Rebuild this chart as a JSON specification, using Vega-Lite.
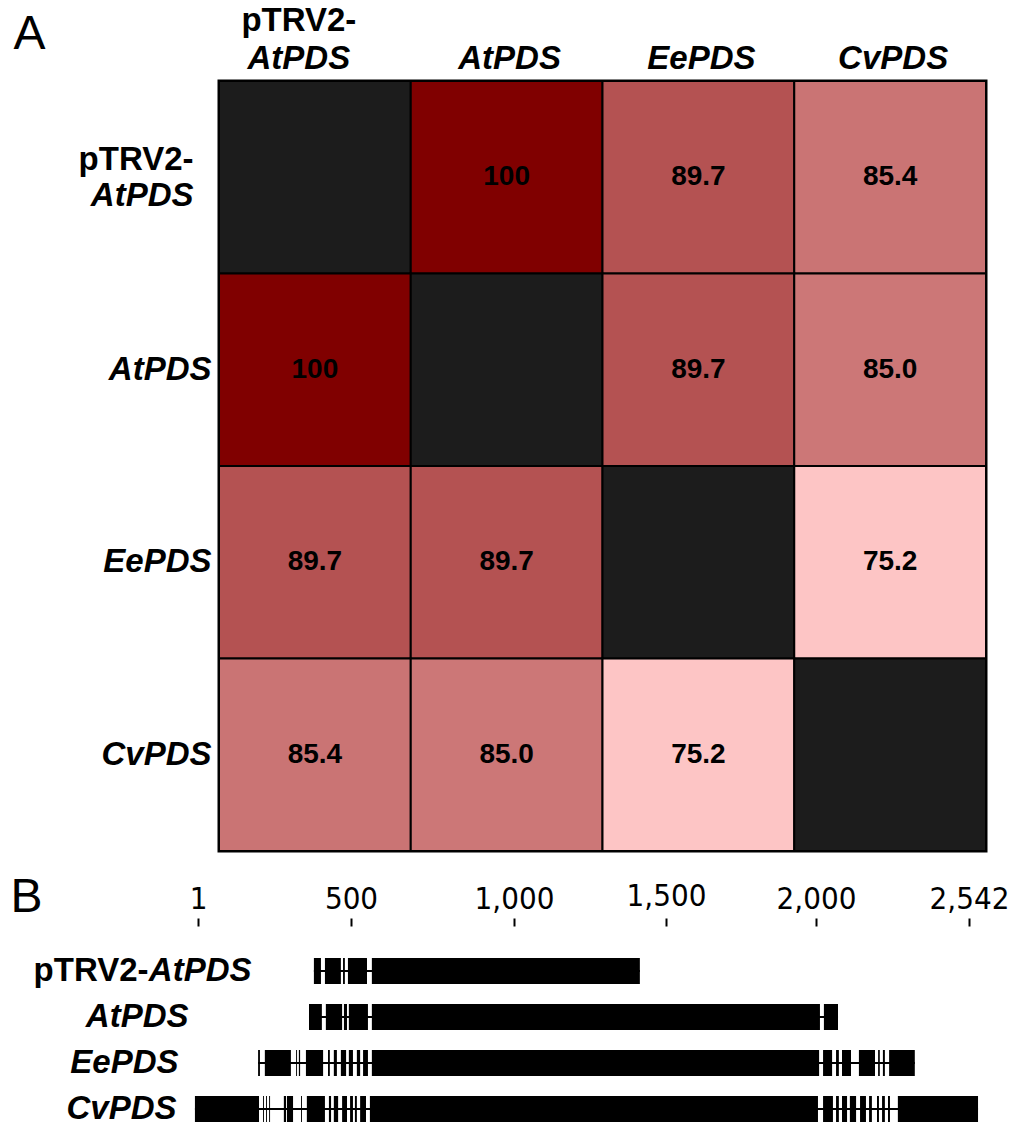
{
  "$schema": "https://vega.github.io/schema/vega-lite/v6.json",
  "background": "white",
  "padding": {"left": 10, "top": 2, "right": 0, "bottom": 0},
  "spacing": 19,
  "config": {
    "font": "Liberation Sans",
    "view": {"stroke": null},
    "axis": {"labelColor": "black", "labelLimit": 0, "labelOverlap": false, "grid": false, "titleColor": "black"}
  },
  "vconcat": [
    {
      "width": 767,
      "height": 770,
      "view": {"stroke": "black", "strokeWidth": 3},
      "data": {
        "values": [
          {"row": "pTRV2-AtPDS", "col": "pTRV2-AtPDS", "identity": null},
          {"row": "pTRV2-AtPDS", "col": "AtPDS", "identity": 100},
          {"row": "pTRV2-AtPDS", "col": "EePDS", "identity": 89.7},
          {"row": "pTRV2-AtPDS", "col": "CvPDS", "identity": 85.4},
          {"row": "AtPDS", "col": "pTRV2-AtPDS", "identity": 100},
          {"row": "AtPDS", "col": "AtPDS", "identity": null},
          {"row": "AtPDS", "col": "EePDS", "identity": 89.7},
          {"row": "AtPDS", "col": "CvPDS", "identity": 85.0},
          {"row": "EePDS", "col": "pTRV2-AtPDS", "identity": 89.7},
          {"row": "EePDS", "col": "AtPDS", "identity": 89.7},
          {"row": "EePDS", "col": "EePDS", "identity": null},
          {"row": "EePDS", "col": "CvPDS", "identity": 75.2},
          {"row": "CvPDS", "col": "pTRV2-AtPDS", "identity": 85.4},
          {"row": "CvPDS", "col": "AtPDS", "identity": 85.0},
          {"row": "CvPDS", "col": "EePDS", "identity": 75.2},
          {"row": "CvPDS", "col": "CvPDS", "identity": null}
        ]
      },
      "layer": [
        {
          "mark": {"type": "rect", "stroke": "black", "strokeWidth": 2, "invalid": null},
          "encoding": {
            "x": {
              "field": "col", "type": "nominal",
              "sort": ["pTRV2-AtPDS", "AtPDS", "EePDS", "CvPDS"],
              "scale": {"paddingInner": 0, "paddingOuter": 0},
              "axis": {
                "orient": "top", "title": null, "domain": false, "ticks": false, "labelAngle": 0,
                "labelFont": "Liberation Sans", "labelFontSize": 33, "labelFontWeight": "bold", "labelFontStyle": "italic",
                "labelAlign": "center", "labelBaseline": "bottom", "labelPadding": 6,
                "labelOffset": {"condition": {"test": "datum.value === 'pTRV2-AtPDS'", "value": -16}, "value": 3},
                "labelExpr": "datum.value === 'pTRV2-AtPDS' ? 'AtPDS' : datum.value"
              }
            },
            "y": {
              "field": "row", "type": "nominal",
              "sort": ["pTRV2-AtPDS", "AtPDS", "EePDS", "CvPDS"],
              "scale": {"paddingInner": 0, "paddingOuter": 0},
              "axis": {
                "orient": "left", "title": null, "domain": false, "ticks": false,
                "labelFont": "Liberation Sans", "labelFontSize": 33, "labelFontWeight": "bold", "labelFontStyle": "italic",
                "labelAlign": "right", "labelBaseline": "middle",
                "labelOffset": {"condition": {"test": "datum.value === 'pTRV2-AtPDS'", "value": 19}, "value": 0},
                "labelPadding": {"condition": {"test": "datum.value === 'pTRV2-AtPDS'", "value": 26}, "value": 8},
                "labelExpr": "datum.value === 'pTRV2-AtPDS' ? 'AtPDS' : datum.value"
              }
            },
            "color": {
              "condition": {"test": "datum.row === datum.col", "value": "#1c1c1c"},
              "field": "identity", "type": "quantitative",
              "scale": {"domain": [75.2, 100], "range": ["#fdc5c5", "#800000"], "interpolate": "rgb"},
              "legend": null
            }
          }
        },
        {
          "transform": [{"filter": "datum.identity != null"}],
          "mark": {"type": "text", "font": "Liberation Sans", "fontSize": 28, "fontWeight": "bold", "color": "black", "baseline": "middle", "align": "center"},
          "encoding": {
            "x": {
              "field": "col", "type": "nominal",
              "sort": ["pTRV2-AtPDS", "AtPDS", "EePDS", "CvPDS"],
              "axis": {
                "orient": "top", "title": null, "domain": false, "ticks": false, "labelAngle": 0,
                "labelFont": "Liberation Sans", "labelFontSize": 33, "labelFontWeight": "bold", "labelFontStyle": "normal",
                "labelAlign": "center", "labelBaseline": "bottom", "labelPadding": 44,
                "labelOffset": {"condition": {"test": "datum.value === 'pTRV2-AtPDS'", "value": -16}, "value": 3},
                "labelExpr": "datum.value === 'pTRV2-AtPDS' ? 'pTRV2-' : ''"
              }
            },
            "y": {
              "field": "row", "type": "nominal",
              "sort": ["pTRV2-AtPDS", "AtPDS", "EePDS", "CvPDS"],
              "axis": {
                "orient": "left", "domain": false, "ticks": false,
                "labelFont": "Liberation Sans", "labelFontSize": 33, "labelFontWeight": "bold", "labelFontStyle": "normal",
                "labelAlign": "right", "labelBaseline": "middle", "labelOffset": -17,
                "labelPadding": 26,
                "labelExpr": "datum.value === 'pTRV2-AtPDS' ? 'pTRV2-' : ''",
                "title": "A", "titleAngle": 0, "titleFont": "Liberation Sans", "titleFontSize": 48, "titleFontWeight": "normal",
                "titleAlign": "left", "titleBaseline": "alphabetic", "titleX": -206, "titleY": -33
              }
            },
            "text": {
              "condition": {"test": "datum.identity === 100", "field": "identity", "type": "quantitative", "format": "d"},
              "field": "identity", "type": "quantitative", "format": ".1f"
            }
          }
        }
      ],
      "resolve": {"axis": {"x": "independent", "y": "independent"}}
    },
    {
      "width": 760,
      "height": 196,
      "view": {"stroke": null},
      "layer": [
        {
          "data": {
            "values": [
              {"gene": "pTRV2-AtPDS", "start": 379, "end": 1414},
              {"gene": "AtPDS", "start": 363, "end": 2078},
              {"gene": "EePDS", "start": 197, "end": 2350},
              {"gene": "CvPDS", "start": -9, "end": 2574}
            ]
          },
          "mark": {"type": "rule", "strokeWidth": 2, "color": "black"},
          "encoding": {
            "x": {"field": "start", "type": "quantitative"},
            "x2": {"field": "end"},
            "y": {
              "field": "gene", "type": "nominal",
              "sort": ["pTRV2-AtPDS", "AtPDS", "EePDS", "CvPDS"],
              "axis": {
                "orient": "left", "domain": false, "ticks": false,
                "labelFont": "Liberation Sans", "labelFontSize": 33, "labelFontWeight": "bold", "labelFontStyle": "normal",
                "labelAlign": "right", "labelBaseline": "middle", "labelPadding": 71,
                "labelExpr": "datum.value === 'pTRV2-AtPDS' ? 'pTRV2-' : ''",
                "title": "B", "titleAngle": 0, "titleFont": "Liberation Sans", "titleFontSize": 48, "titleFontWeight": "normal",
                "titleAlign": "left", "titleBaseline": "alphabetic", "titleX": -209, "titleY": -15
              }
            }
          }
        },
        {
          "data": {
            "values": [
              {"gene": "pTRV2-AtPDS", "start": 379, "end": 402},
              {"gene": "pTRV2-AtPDS", "start": 415, "end": 467},
              {"gene": "pTRV2-AtPDS", "start": 474, "end": 480},
              {"gene": "pTRV2-AtPDS", "start": 490, "end": 549},
              {"gene": "pTRV2-AtPDS", "start": 564, "end": 1414},
              {"gene": "AtPDS", "start": 363, "end": 405},
              {"gene": "AtPDS", "start": 418, "end": 471},
              {"gene": "AtPDS", "start": 477, "end": 487},
              {"gene": "AtPDS", "start": 493, "end": 552},
              {"gene": "AtPDS", "start": 564, "end": 2014},
              {"gene": "AtPDS", "start": 2028, "end": 2078},
              {"gene": "EePDS", "start": 197, "end": 203},
              {"gene": "EePDS", "start": 219, "end": 304},
              {"gene": "EePDS", "start": 321, "end": 324},
              {"gene": "EePDS", "start": 330, "end": 334},
              {"gene": "EePDS", "start": 353, "end": 409},
              {"gene": "EePDS", "start": 425, "end": 431},
              {"gene": "EePDS", "start": 444, "end": 454},
              {"gene": "EePDS", "start": 467, "end": 484},
              {"gene": "EePDS", "start": 493, "end": 506},
              {"gene": "EePDS", "start": 518, "end": 528},
              {"gene": "EePDS", "start": 537, "end": 552},
              {"gene": "EePDS", "start": 564, "end": 2011},
              {"gene": "EePDS", "start": 2025, "end": 2057},
              {"gene": "EePDS", "start": 2071, "end": 2081},
              {"gene": "EePDS", "start": 2092, "end": 2124},
              {"gene": "EePDS", "start": 2152, "end": 2209},
              {"gene": "EePDS", "start": 2220, "end": 2226},
              {"gene": "EePDS", "start": 2237, "end": 2244},
              {"gene": "EePDS", "start": 2259, "end": 2350},
              {"gene": "CvPDS", "start": -9, "end": 200},
              {"gene": "CvPDS", "start": 213, "end": 216},
              {"gene": "CvPDS", "start": 223, "end": 226},
              {"gene": "CvPDS", "start": 233, "end": 236},
              {"gene": "CvPDS", "start": 281, "end": 288},
              {"gene": "CvPDS", "start": 291, "end": 311},
              {"gene": "CvPDS", "start": 337, "end": 340},
              {"gene": "CvPDS", "start": 356, "end": 415},
              {"gene": "CvPDS", "start": 428, "end": 435},
              {"gene": "CvPDS", "start": 444, "end": 458},
              {"gene": "CvPDS", "start": 471, "end": 487},
              {"gene": "CvPDS", "start": 497, "end": 506},
              {"gene": "CvPDS", "start": 512, "end": 518},
              {"gene": "CvPDS", "start": 528, "end": 546},
              {"gene": "CvPDS", "start": 558, "end": 2007},
              {"gene": "CvPDS", "start": 2025, "end": 2060},
              {"gene": "CvPDS", "start": 2071, "end": 2081},
              {"gene": "CvPDS", "start": 2092, "end": 2110},
              {"gene": "CvPDS", "start": 2120, "end": 2142},
              {"gene": "CvPDS", "start": 2156, "end": 2177},
              {"gene": "CvPDS", "start": 2188, "end": 2198},
              {"gene": "CvPDS", "start": 2216, "end": 2223},
              {"gene": "CvPDS", "start": 2234, "end": 2244},
              {"gene": "CvPDS", "start": 2255, "end": 2262},
              {"gene": "CvPDS", "start": 2290, "end": 2574}
            ]
          },
          "mark": {"type": "rect", "color": "black"},
          "encoding": {
            "x": {
              "field": "start", "type": "quantitative",
              "scale": {"domain": [1, 500, 1000, 1500, 2000, 2542], "range": [-21, 132, 295, 447, 597, 750], "zero": false, "nice": false},
              "axis": {
                "orient": "top", "title": null, "domain": false, "grid": false,
                "values": [1, 500, 1000, 1500, 2000, 2542],
                "labelExpr": "format(datum.value, ',')",
                "ticks": true, "tickSize": 8, "tickWidth": 2, "tickColor": "black",
                "labelFont": "DejaVu Sans Condensed", "labelFontSize": 31, "labelFontWeight": "normal",
                "labelBaseline": "alphabetic", "labelAlign": "center", "labelFlush": false,
                "labelPadding": {"condition": {"test": "datum.value === 1500", "value": 13}, "value": 10}
              }
            },
            "x2": {"field": "end"},
            "y": {
              "field": "gene", "type": "nominal",
              "sort": ["pTRV2-AtPDS", "AtPDS", "EePDS", "CvPDS"],
              "scale": {"paddingInner": 0.435, "paddingOuter": 0.348, "align": 1},
              "axis": {
                "orient": "left", "title": null, "domain": false, "ticks": false,
                "labelFont": "Liberation Sans", "labelFontSize": 33, "labelFontWeight": "bold", "labelFontStyle": "italic",
                "labelAlign": "right", "labelBaseline": "middle",
                "labelPadding": {
                  "condition": [
                    {"test": "datum.value === 'pTRV2-AtPDS'", "value": -32},
                    {"test": "datum.value === 'AtPDS'", "value": 31},
                    {"test": "datum.value === 'EePDS'", "value": 41}
                  ],
                  "value": 43
                },
                "labelExpr": "datum.value === 'pTRV2-AtPDS' ? 'AtPDS' : datum.value"
              }
            }
          }
        }
      ],
      "resolve": {"axis": {"y": "independent"}}
    }
  ]
}
